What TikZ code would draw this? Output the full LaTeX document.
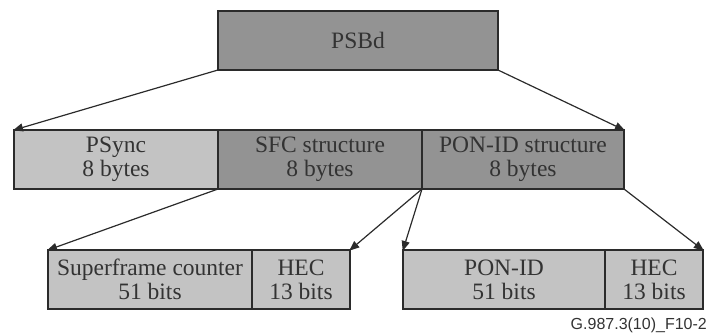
\documentclass[tikz,border=0pt]{standalone}
\usepackage{fontspec}
\setmainfont{Liberation Serif}
\newfontfamily\labelfont{Liberation Sans}
\usetikzlibrary{arrows.meta}
\definecolor{darkfill}{HTML}{939393}
\definecolor{lightfill}{HTML}{C3C3C3}
\definecolor{inkc}{HTML}{2B2B2B}
\definecolor{textc}{HTML}{333333}
\tikzset{
  field/.style={draw=inkc, line width=1.3pt, inner sep=0pt, outer sep=0pt, anchor=north west,
    align=center, text=textc, font=\fontsize{23.5}{24}\selectfont},
  darkfield/.style={field, fill=darkfill},
  lightfield/.style={field, fill=lightfill},
  conn/.style={draw=inkc, line width=1.2pt, -{Triangle[length=10pt,width=8pt]}, shorten >=-1pt}
}
\begin{document}
\begin{tikzpicture}[x=1pt,y=-1pt]
\useasboundingbox (0,0) rectangle (708,333);
% top
\node[darkfield, minimum width=280pt, minimum height=59pt] (psbd) at (218,11) {PSBd};
% row 2
\node[lightfield, minimum width=204pt, minimum height=59pt] (psync) at (14,130) {PSync\\8 bytes};
\node[darkfield, minimum width=204pt, minimum height=59pt] (sfc) at (218,130) {SFC structure\\8 bytes};
\node[darkfield, minimum width=202pt, minimum height=59pt] (ponids) at (422,130) {PON-ID structure\\8 bytes};
% row 3 left
\node[lightfield, minimum width=204pt, minimum height=59pt] (sfcnt) at (48,250) {Superframe counter\\51 bits};
\node[lightfield, minimum width=98pt, minimum height=59pt] (hec1) at (252,250) {HEC\\13 bits};
% row 3 right
\node[lightfield, minimum width=202pt, minimum height=59pt] (ponid) at (403,250) {PON-ID\\51 bits};
\node[lightfield, minimum width=98pt, minimum height=59pt] (hec2) at (605,250) {HEC\\13 bits};
% connectors
\draw[conn] (psbd.south west) -- (psync.north west);
\draw[conn] (psbd.south east) -- (ponids.north east);
\draw[conn] (sfc.south west) -- (sfcnt.north west);
\draw[conn] (sfc.south east) -- (hec1.north east);
\draw[conn] (ponids.south west) -- (ponid.north west);
\draw[conn] (ponids.south east) -- (hec2.north east);
% figure label
\node[anchor=base east, inner sep=0pt, text=textc, font=\labelfont\fontsize{16}{18}\selectfont] (figlabel) at (707,329) {G.987.3(10)\_F10-2};
\end{tikzpicture}
\end{document}
